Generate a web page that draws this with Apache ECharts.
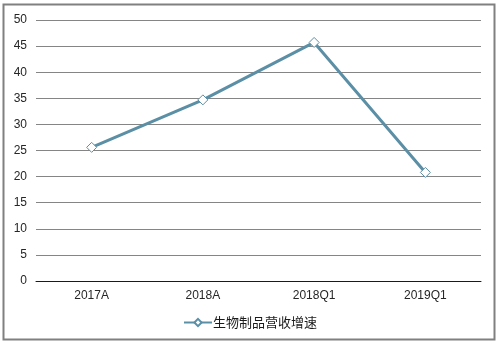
<!DOCTYPE html>
<html>
<head>
<meta charset="utf-8">
<script src="https://cdn.jsdelivr.net/npm/echarts@6/dist/echarts.min.js"></script>
<style>
  html, body { margin: 0; padding: 0; background: #fff; }
  #chart { width: 500px; height: 344px; }
</style>
</head>
<body>
<div id="chart"></div>
<script>
// Growth of biologics revenue (%)
const categories = ['2017A', '2018A', '2018Q1', '2019Q1'];
const growth = [25.6, 34.7, 45.7, 20.8];
const seriesName = '生物制品营收增速';
const yMin = 0, yMax = 50, yStep = 5;

const lineColor = '#5b8fa6';
const fontFamily = '"Liberation Sans", Arial, "Noto Sans CJK SC", sans-serif';

const chart = echarts.init(document.getElementById('chart'), null, { renderer: 'canvas' });
chart.setOption({
  animation: false,
  backgroundColor: '#fff',
  textStyle: { fontFamily: fontFamily },
  graphic: [{
    type: 'rect',
    shape: { x: 3.5, y: 4.5, width: 491, height: 335 },
    style: { fill: 'none', stroke: '#808080', lineWidth: 2 },
    z: -1
  }],
  grid: { left: 36, right: 19, top: 20, bottom: 63 },
  legend: {
    bottom: 10,
    left: 'center',
    itemWidth: 28,
    itemHeight: 9,
    itemGap: 2,
    textStyle: { fontSize: 13, color: '#1a1a1a', fontFamily: '"Noto Sans CJK SC", sans-serif', padding: [0, 0, 0, -4] },
    data: [seriesName]
  },
  xAxis: {
    type: 'category',
    data: categories,
    boundaryGap: true,
    axisLine: { show: true, lineStyle: { color: '#1a1a1a', width: 1 } },
    axisTick: { show: false },
    axisLabel: { color: '#262626', fontSize: 12, margin: 9 }
  },
  yAxis: {
    type: 'value',
    min: yMin,
    max: yMax,
    interval: yStep,
    axisLine: { show: false },
    axisTick: { show: false },
    axisLabel: { color: '#262626', fontSize: 12, margin: 9 },
    splitLine: { lineStyle: { color: '#858585', width: 1 } }
  },
  series: [{
    name: seriesName,
    type: 'line',
    data: growth,
    symbol: 'diamond',
    symbolSize: 10,
    lineStyle: { color: lineColor, width: 3 },
    itemStyle: { color: '#ffffff', borderColor: lineColor, borderWidth: 1 },
    z: 3
  }]
});
</script>
</body>
</html>
